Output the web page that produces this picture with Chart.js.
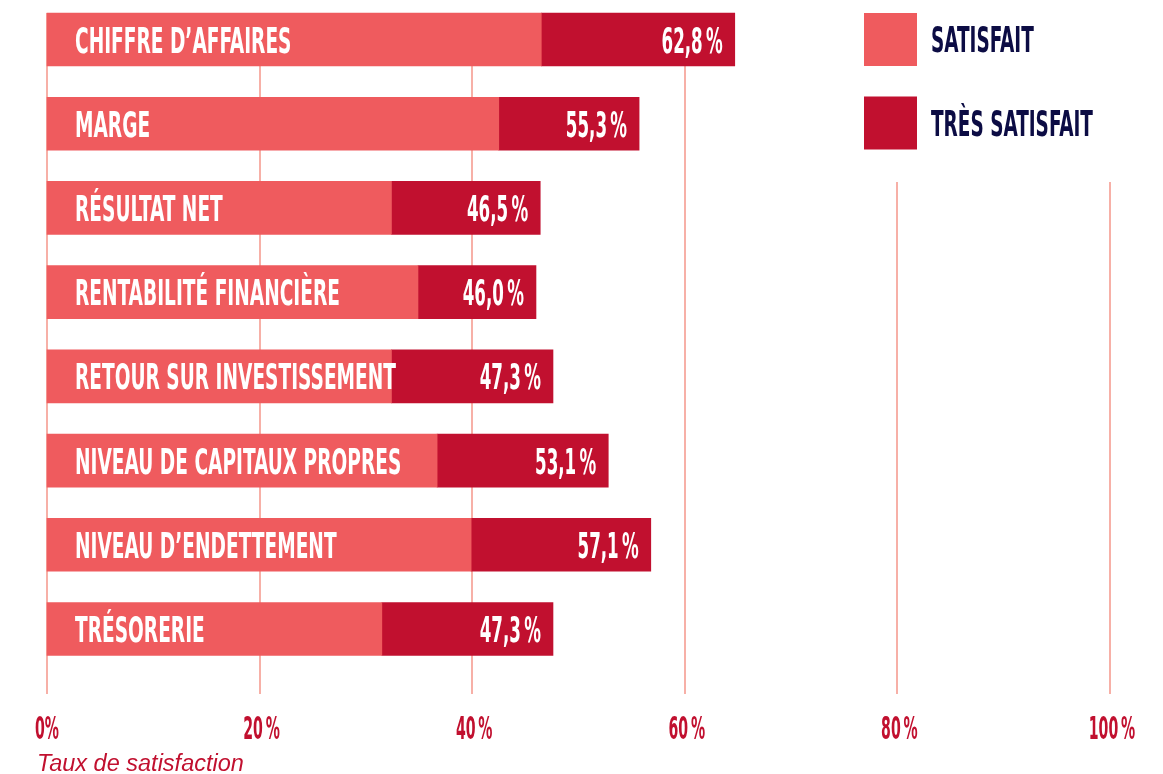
<!DOCTYPE html>
<html>
<head>
<meta charset="utf-8">
<script src="https://cdn.jsdelivr.net/npm/chart.js@4/dist/chart.umd.min.js"></script>
<style>
  html, body { margin: 0; padding: 0; background: #fff; }
  #wrap { width: 1163px; height: 774px; position: relative; }
</style>
</head>
<body>
<div id="wrap"><canvas id="graphique"></canvas></div>
<script>
const categories = ['CHIFFRE D\u2019AFFAIRES', 'MARGE', 'RÉSULTAT NET', 'RENTABILITÉ FINANCIÈRE',
  'RETOUR SUR INVESTISSEMENT', 'NIVEAU DE CAPITAUX PROPRES', 'NIVEAU D\u2019ENDETTEMENT', 'TRÉSORERIE'];
const satisfait = [46.5, 42.5, 32.4, 34.9, 32.4, 36.7, 39.9, 31.5];
const tresSatisfait = [18.2, 13.2, 14.0, 11.1, 15.2, 16.1, 16.9, 16.1];
// totaux imprimés sur les barres
const totaux = ['62,8', '55,3', '46,5', '46,0', '47,3', '53,1', '57,1', '47,3'];
const serieNoms = ['SATISFAIT', 'TRÈS SATISFAIT'];
const ticksX = [0, 20, 40, 60, 80, 100];

const CORAIL = '#ef5b5e';
const CRAMOISI = '#c1102f';
const MARINE = '#0c0c44';
const GRILLE = '#f7b0a7';
const CONDENSE = '"Liberation Sans Narrow", "DejaVu Sans Condensed", sans-serif';

function texte(ctx, s, x, y, size, color, align, sx) {
  ctx.save();
  ctx.font = 'bold ' + size + 'px ' + CONDENSE;
  ctx.fillStyle = color;
  ctx.textBaseline = 'alphabetic';
  ctx.textAlign = align;
  ctx.translate(x, y);
  ctx.scale(sx, 1);
  ctx.fillText(s, 0, 0);
  ctx.restore();
}

const decor = {
  id: 'decor',
  beforeDatasetsDraw(chart) {
    const ctx = chart.ctx;
    const x = chart.scales.x;
    const premiere = chart.getDatasetMeta(0).data[0];
    const haut = premiere.y - premiere.height / 2;
    const bas = chart.chartArea.bottom + 65;
    ctx.save();
    ctx.strokeStyle = GRILLE;
    ctx.lineWidth = 2;
    ticksX.forEach(v => {
      const px = Math.round(x.getPixelForValue(v));
      const debut = v >= 80 ? 182 : haut;
      ctx.beginPath();
      ctx.moveTo(px, debut);
      ctx.lineTo(px, bas);
      ctx.stroke();
    });
    ctx.restore();
  },
  afterDatasetsDraw(chart) {
    const ctx = chart.ctx;
    const x = chart.scales.x;
    const bars0 = chart.getDatasetMeta(0).data;
    const bars1 = chart.getDatasetMeta(1).data;
    const x0 = x.getPixelForValue(0);

    categories.forEach((c, i) => {
      const y = bars0[i].y;
      texte(ctx, c, x0 + 28, y + 13, 35, '#fff', 'left', 0.59);
      texte(ctx, totaux[i] + '\u2009%', bars1[i].x - 12, y + 13, 35, '#fff', 'right', 0.53);
    });

    // graduations
    const yTick = chart.chartArea.bottom + 110;
    ticksX.forEach(v => {
      const lab = v === 0 ? '0%' : v + '\u2009%';
      texte(ctx, lab, x.getPixelForValue(v) + (v === 0 ? 0 : 2), yTick, 32, CRAMOISI, 'center', 0.49);
    });

    // titre de l'axe
    ctx.save();
    ctx.font = 'italic 23.5px "Liberation Sans", Arial, sans-serif';
    ctx.fillStyle = CRAMOISI;
    ctx.textAlign = 'left';
    ctx.textBaseline = 'alphabetic';
    ctx.fillText('Taux de satisfaction', 37, 771);
    ctx.restore();

    // légende
    const couleurs = [CORAIL, CRAMOISI];
    serieNoms.forEach((n, i) => {
      const top = 13 + i * 83.5;
      ctx.fillStyle = couleurs[i];
      ctx.fillRect(864, top, 53, 53);
      texte(ctx, n, 931, top + 39, 36, MARINE, 'left', 0.57);
    });
  }
};

const ctx = document.getElementById('graphique');

new Chart(ctx, {
  type: 'bar',
  data: {
    labels: categories,
    datasets: [{
      label: serieNoms[0],
      data: satisfait,
      backgroundColor: CORAIL,
      barThickness: 53,
      clip: false
    }, {
      label: serieNoms[1],
      data: tresSatisfait,
      backgroundColor: CRAMOISI,
      barThickness: 53,
      clip: false
    }]
  },
  options: {
    indexAxis: 'y',
    responsive: true,
    maintainAspectRatio: false,
    animation: false,
    layout: {
      padding: { left: 47, right: 53, top: 39.5, bottom: 145 }
    },
    plugins: {
      legend: { display: false },
      tooltip: { enabled: false }
    },
    scales: {
      x: {
        display: false,
        stacked: true,
        min: 0,
        max: 100,
        ticks: { stepSize: 20 }
      },
      y: {
        display: false,
        stacked: true,
        offset: false
      }
    }
  },
  plugins: [decor]
});
</script>
</body>
</html>
